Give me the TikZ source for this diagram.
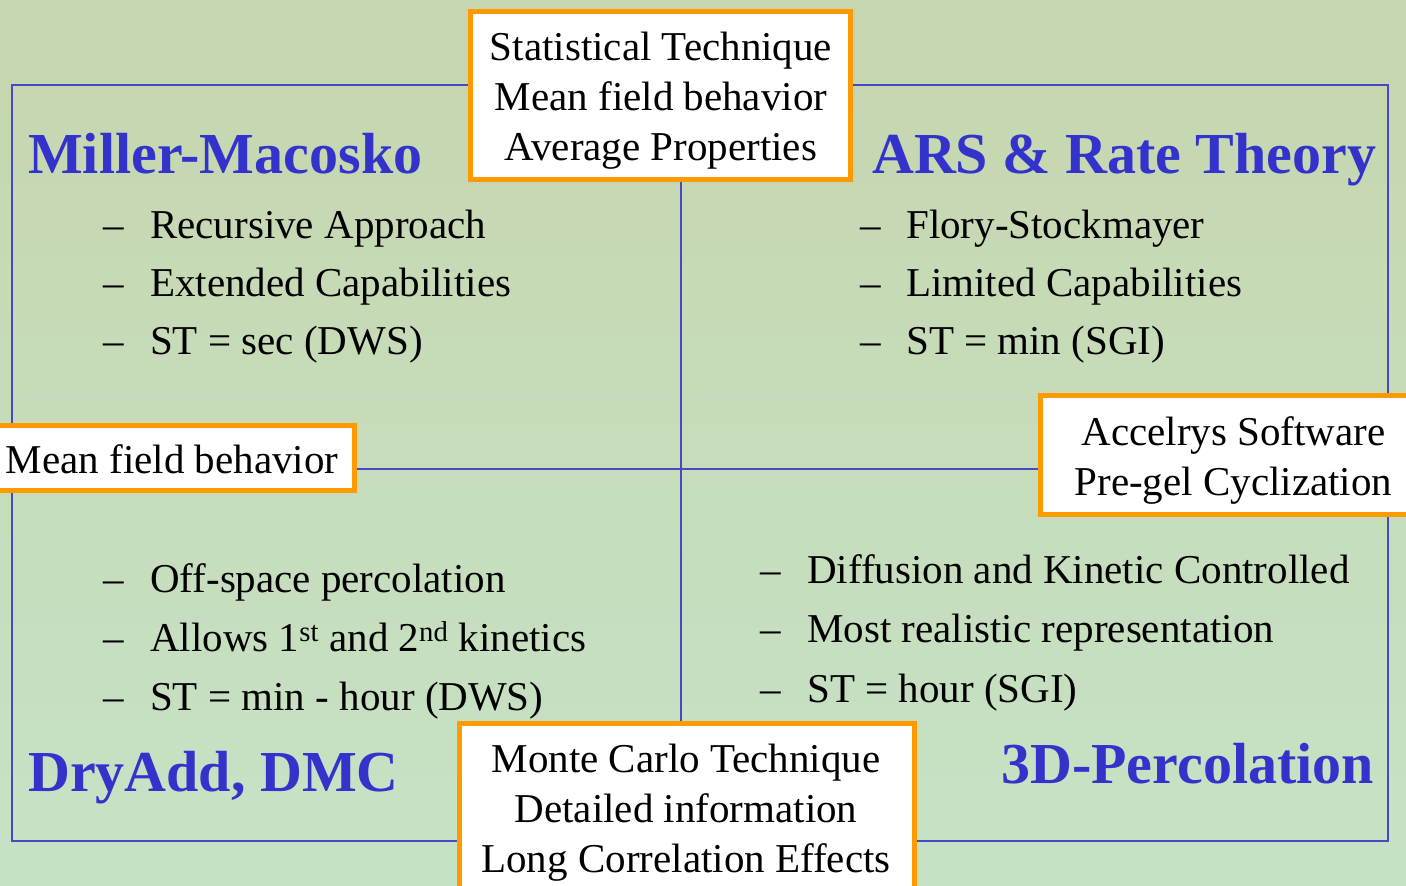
\documentclass[tikz,border=0pt]{standalone}
\usepackage{fontspec}
\setmainfont{Liberation Serif}

\definecolor{slideblue}{RGB}{51,51,204}
\definecolor{framecol}{RGB}{72,72,196}
\definecolor{boxorange}{RGB}{255,153,0}
\definecolor{bgtop}{RGB}{198,214,174}
\definecolor{bgmid}{RGB}{192,220,186}
\definecolor{bgbot}{RGB}{198,226,198}

\begin{document}
\begin{tikzpicture}[
    x=1pt, y=-1pt,
    heading/.style={
      anchor=base west,
      inner sep=0pt,
      text=slideblue,
      font=\fontsize{58}{64}\selectfont\bfseries
    },
    entry/.style={
      anchor=base west,
      inner sep=0pt,
      font=\fontsize{41}{48}\selectfont
    },
    notebox/.style={
      draw=boxorange,
      line width=4.7pt,
      fill=white,
      inner sep=0pt
    },
    notetext/.style={
      align=center,
      inner sep=0pt,
      font=\fontsize{41}{50}\selectfont
    },
    divider/.style={draw=framecol, line width=1.5pt}
  ]
    % page and background
    \useasboundingbox (0,0) rectangle (1406,886);
    \clip (0,0) rectangle (1406,886);
    \shade[top color=bgtop, middle color=bgmid, bottom color=bgbot] (0,0) rectangle (1406,886);

    % frame with the four quadrants
    \draw[divider] (12,85) rectangle (1388,841);
    \draw[divider] (681,85) -- (681,841);
    \draw[divider] (12,469) -- (1388,469);

    % quadrant headings
    \node[heading] (miller) at (28,173) {Miller-Macosko};
    \node[heading] (ars) at (872,173) {ARS \& Rate Theory};
    \node[heading] (dryadd) at (28,791) {DryAdd, DMC};
    \node[heading] (perc) at (1001,783) {3D-Percolation};

    % top left items
    \node[entry] (tld1) at (103,238) {–};
    \node[entry] (tl1) at (150,238) {Recursive Approach};
    \node[entry] (tld2) at (103,296) {–};
    \node[entry] (tl2) at (150,296) {Extended Capabilities};
    \node[entry] (tld3) at (103,354) {–};
    \node[entry] (tl3) at (150,354) {ST = sec (DWS)};

    % top right items
    \node[entry] (trd1) at (860,238) {–};
    \node[entry] (tr1) at (906,238) {Flory-Stockmayer};
    \node[entry] (trd2) at (860,296) {–};
    \node[entry] (tr2) at (906,296) {Limited Capabilities};
    \node[entry] (trd3) at (860,354) {–};
    \node[entry] (tr3) at (906,354) {ST = min (SGI)};

    % bottom left items
    \node[entry] (bld1) at (103,592) {–};
    \node[entry] (bl1) at (150,592) {Off-space percolation};
    \node[entry] (bld2) at (103,651) {–};
    \node[entry] (bl2) at (150,651) {Allows 1\textsuperscript{st} and 2\textsuperscript{nd} kinetics};
    \node[entry] (bld3) at (103,710) {–};
    \node[entry] (bl3) at (150,710) {ST = min - hour (DWS)};

    % bottom right items
    \node[entry] (brd1) at (760,583) {–};
    \node[entry] (br1) at (807,583) {Diffusion and Kinetic Controlled};
    \node[entry] (brd2) at (760,642) {–};
    \node[entry] (br2) at (807,642) {Most realistic representation};
    \node[entry] (brd3) at (760,702) {–};
    \node[entry] (br3) at (807,702) {ST = hour (SGI)};

    % orange note boxes
    \node[notebox, minimum width=380.3pt, minimum height=168.3pt] (statbox) at (660.5,95.5) {};
    \node[notetext] (stattext) at (661,100.5) {Statistical Technique\\Mean field behavior\\Average Properties};

    \node[notebox, minimum width=364.6pt, minimum height=65.2pt] (meanbox) at (172.3,458) {};
    \node[notetext, anchor=base] (meantext) at (172,473) {Mean field behavior};

    \node[notebox, minimum width=379.6pt, minimum height=119.2pt] (softbox) at (1230.2,455) {};
    \node[notetext] (softtext) at (1233.5,460.5) {Accelrys Software\\Pre-gel Cyclization};

    \node[notebox, minimum width=455.2pt, minimum height=176.6pt] (mcbox) at (687,811.7) {};
    \node[notetext] (mctext) at (686,812.2) {Monte Carlo Technique\\Detailed information\\Long Correlation Effects};
  \end{tikzpicture}
\end{document}
